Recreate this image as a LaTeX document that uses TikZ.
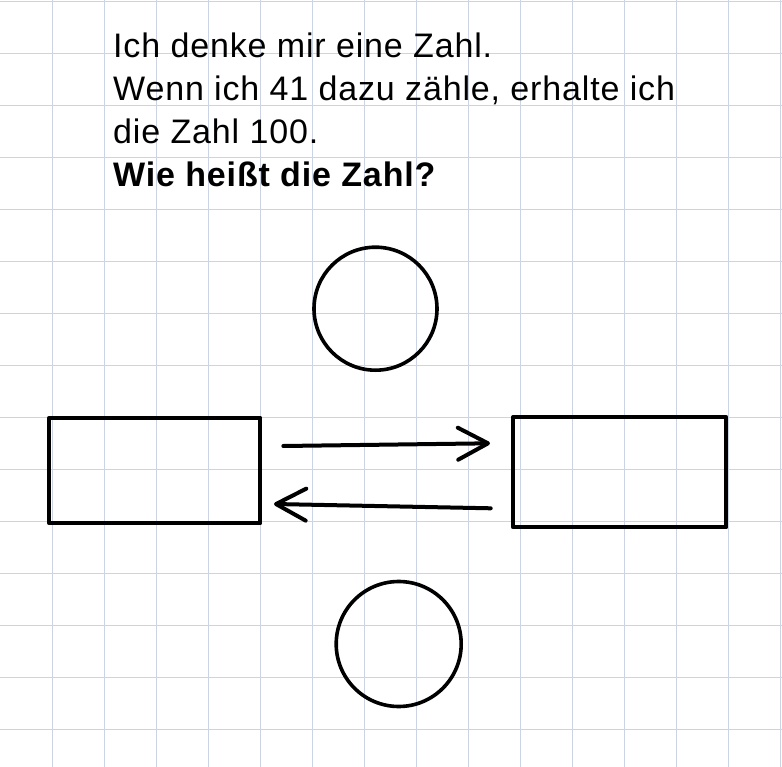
\documentclass[tikz,border=0pt]{standalone}
\usepackage{fontspec}
\setmainfont[LetterSpace=2.5]{Liberation Sans}
\usetikzlibrary{arrows.meta}
\definecolor{gridc}{RGB}{203,211,228}
\tikzset{
  gridline/.style={draw=gridc, line width=1pt},
  txt/.style={anchor=base west, inner sep=0pt, font=\fontsize{34}{40}\selectfont},
  ring/.style={draw=black, line width=3.6pt},
  box/.style={draw=black, line width=4pt, line join=round},
  arr/.style={draw=black, line width=4pt, line cap=round,
    -{Straight Barb[length=30pt,width=32pt,round]}}
}
\begin{document}
\begin{tikzpicture}[x=1pt,y=-1pt]
\useasboundingbox (0,0) rectangle (782,767);
\fill[white] (0,0) rectangle (782,767);
\foreach \i in {1,...,15} {\draw[gridline] (52*\i,0) -- (52*\i,767);}
\foreach \j in {0,...,14} {\draw[gridline] (0,1.5+52*\j) -- (782,1.5+52*\j);}
\node[txt] (l1) at (113,57.3) {Ich denke mir eine Zahl.};
\node[txt] (l2) at (113,101) {Wenn ich 41 dazu zähle, erhalte ich};
\node[txt] (l3) at (113,144) {die Zahl 100.};
\node[txt, font=\fontsize{34}{40}\selectfont\bfseries] (l4) at (113,186.7) {Wie heißt die Zahl?};
\draw[ring] (375.5,308.7) circle[radius=61.5];
\node[coordinate] (c1) at (375.5,308.7) {};
\draw[ring] (398.7,644) circle[radius=62.5];
\node[coordinate] (c2) at (398.7,644) {};
\draw[box] (49.3,417.7) rectangle (260.3,523.3);
\draw[box] (513,417) rectangle (726.3,527.3);
\coordinate (a1s) at (283.3,446);
\coordinate (a1e) at (490,443.3);
\coordinate (a2s) at (490.7,508.3);
\coordinate (a2e) at (274,504);
\draw[arr] (a1s) -- (a1e);
\draw[arr] (a2s) -- (a2e);
\end{tikzpicture}
\end{document}
